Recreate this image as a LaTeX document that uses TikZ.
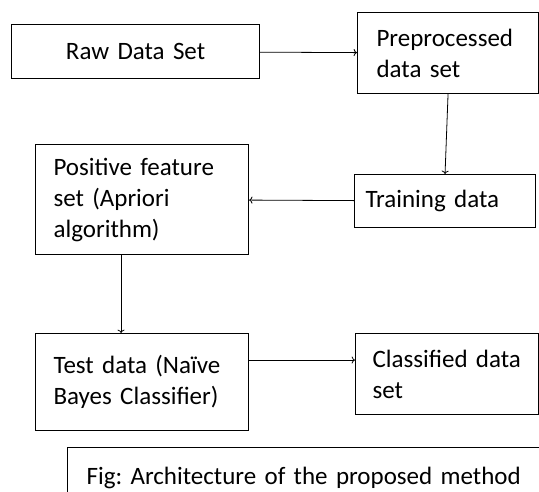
\documentclass[tikz,border=0pt]{standalone}
\usepackage{fontspec}
\setmainfont{Carlito}[WordSpace=0.6]
\frenchspacing
\usetikzlibrary{positioning,calc,arrows.meta}

\tikzset{
    blk/.style={draw, line width=1.1pt, anchor=north west, align=left, inner ysep=0pt,
        font=\fontsize{25}{31}\selectfont},
    flow/.style={->, line width=0.8pt}
}

\begin{document}
\begin{tikzpicture}[x=1pt,y=-1pt]
    \useasboundingbox (0,0) rectangle (539,491);

    \node[blk, align=center, inner xsep=18pt, text width=212pt, minimum height=54pt] (raw) at (11,24) {Raw Data Set};
    \node[blk, inner xsep=19pt, text width=143pt, minimum height=81pt] (prep) at (357,12) {Preprocessed\\data set};
    \node[blk, inner xsep=11pt, text width=159pt, minimum height=53pt] (train) at (354,174) {Training data};
    \node[blk, inner xsep=18pt, text width=177pt, minimum height=110pt] (posfeat) at (35,144) {Positive feature\\set (Apriori\\algorithm)};
    \node[blk, inner xsep=18pt, text width=177pt, minimum height=97pt] (test) at (35,333) {Test data (Na\"ive\\Bayes Classifier)};
    \node[blk, inner xsep=17pt, text width=149pt, minimum height=81pt] (classified) at (355,333) {Classified data\\set};
    \node[blk, inner xsep=19pt, text width=466pt, minimum height=60pt] (caption) at (67,447) {Fig: Architecture of the proposed method};

    \draw[flow] (raw) -- (prep);
    \draw[flow] (prep.south) -- (train.north);
    \draw[flow] (train) -- (posfeat);
    \draw[flow] ([xshift=-21pt]posfeat.south) -- ([xshift=-21pt]test.north);
    \draw[flow] ([yshift=22pt]test.east) -- ([yshift=22pt]test.east -| classified.west);
\end{tikzpicture}
\end{document}
